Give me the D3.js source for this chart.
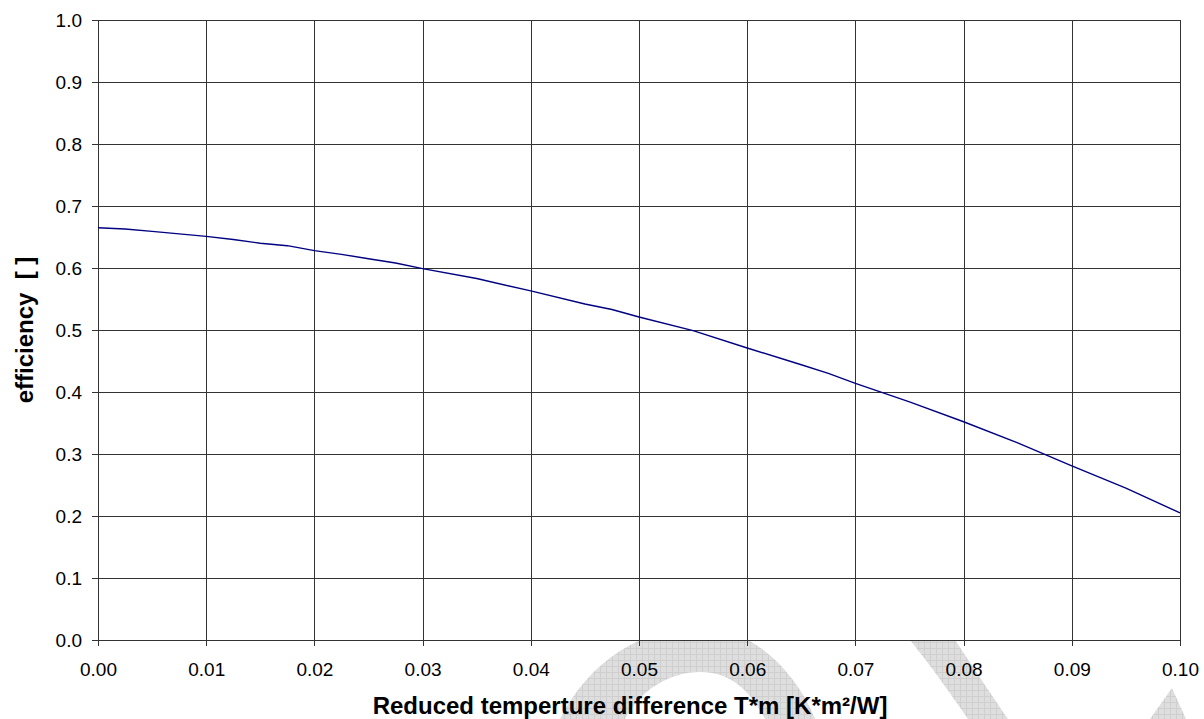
<!DOCTYPE html>
<html>
<head>
<meta charset="utf-8">
<script src="https://cdn.jsdelivr.net/npm/d3@7"></script>
<style>
	body { margin: 0; background: #fff; }
	svg { display: block; }
	.axis text { font-family: "Liberation Sans", Arial, sans-serif; font-size: 19px; fill: #000; }
	.axis path { display: none; }
	.axis line { stroke: #333; }
	.grid line { stroke: #333; }
	.grid path { display: none; }
	.title { font-family: "Liberation Sans", Arial, sans-serif; font-size: 24px; font-weight: bold; fill: #000; white-space: pre; }
</style>
</head>
<body>
<div id="chart"></div>
<script>
// Reduced temperature difference T*m [K*m2/W]
var xValues = [0, 0.0025, 0.005, 0.0075, 0.01, 0.0125, 0.015, 0.0175, 0.02, 0.0225, 0.025, 0.0275,
	0.03, 0.035, 0.04, 0.045, 0.0475, 0.05, 0.055, 0.06, 0.065, 0.0675, 0.07, 0.075, 0.08, 0.085,
	0.09, 0.095, 0.1];
// efficiency [ ]
var efficiency = [0.665, 0.663, 0.659, 0.655, 0.651, 0.646, 0.640, 0.636, 0.628, 0.622, 0.615, 0.608,
	0.599, 0.583, 0.563, 0.542, 0.533, 0.521, 0.499, 0.471, 0.444, 0.430, 0.414, 0.384, 0.352, 0.318,
	0.281, 0.245, 0.205];

var xTicks = [0, 0.01, 0.02, 0.03, 0.04, 0.05, 0.06, 0.07, 0.08, 0.09, 0.1];
var yTicks = [0, 0.1, 0.2, 0.3, 0.4, 0.5, 0.6, 0.7, 0.8, 0.9, 1.0];

var xTitle = 'Reduced temperture difference T*m [K*m\u00b2/W]';
var yTitle = 'efficiency  [ ]';

var width = 1204;
var height = 719;
var margins = { top: 20, right: 24, bottom: 79, left: 98 };
var chartWidth = width - margins.left - margins.right;
var chartHeight = height - margins.top - margins.bottom;

var data = xValues.map(function(x, i) {
	return { x: x, y: efficiency[i] };
});

var svg = d3.select('#chart')
	.append('svg')
	.attr('width', width)
	.attr('height', height);

// faint watermark behind the chart
var defs = svg.append('defs');
var pattern = defs.append('pattern')
	.attr('id', 'wm')
	.attr('width', 6)
	.attr('height', 6)
	.attr('patternUnits', 'userSpaceOnUse');
pattern.append('rect').attr('width', 6).attr('height', 6).attr('fill', '#dedede');
pattern.append('path').attr('d', 'M0,0.5H6M0.5,0V6').attr('stroke', '#cfcfcf').attr('stroke-width', 1);

var watermark = svg.append('g').attr('class', 'watermark');
watermark.append('path')
	.attr('fill', 'url(#wm)')
	.attr('d', 'M560,719 C590,660 640,630 700,625 C760,630 800,680 815,719 L765,719 C750,690 730,672 700,672 C670,672 640,690 625,719 Z');
watermark.append('path')
	.attr('fill', 'url(#wm)')
	.attr('d', 'M910,640 L955,640 C975,670 995,700 1008,719 L968,719 C948,690 930,665 910,640 Z');
watermark.append('path')
	.attr('fill', 'url(#wm)')
	.attr('d', 'M1150,719 L1172,688 L1186,719 Z');

var chartElement = svg.append('g')
	.attr('transform', 'translate(' + margins.left + ',' + margins.top + ')');

chartElement.append('rect')
	.attr('width', chartWidth)
	.attr('height', chartHeight)
	.attr('fill', '#fff');

var xScale = d3.scaleLinear().domain([0, 0.1]).range([0, chartWidth]);
var yScale = d3.scaleLinear().domain([0, 1]).range([chartHeight, 0]);

// grid
chartElement.append('g')
	.attr('class', 'grid')
	.attr('transform', 'translate(0,' + chartHeight + ')')
	.call(d3.axisBottom(xScale).tickValues(xTicks).tickSize(-chartHeight).tickFormat(''))
	.selectAll('line').attr('shape-rendering', 'crispEdges');

chartElement.append('g')
	.attr('class', 'grid')
	.call(d3.axisLeft(yScale).tickValues(yTicks).tickSize(-chartWidth).tickFormat(''))
	.selectAll('line').attr('shape-rendering', 'crispEdges');

// axes
var xAxis = chartElement.append('g')
	.attr('class', 'x axis')
	.attr('transform', 'translate(0,' + chartHeight + ')')
	.call(d3.axisBottom(xScale).tickValues(xTicks).tickSize(6).tickPadding(17).tickFormat(d3.format('.2f')));
xAxis.selectAll('line').attr('shape-rendering', 'crispEdges');

var yAxis = chartElement.append('g')
	.attr('class', 'y axis')
	.call(d3.axisLeft(yScale).tickValues(yTicks).tickSize(6).tickPadding(10).tickFormat(d3.format('.1f')));
yAxis.selectAll('line').attr('shape-rendering', 'crispEdges');

// line
var line = d3.line()
	.x(function(d) { return xScale(d.x); })
	.y(function(d) { return yScale(d.y); });

chartElement.append('path')
	.datum(data)
	.attr('fill', 'none')
	.attr('stroke', '#000080')
	.attr('stroke-width', 1.4)
	.attr('d', line);

// titles
svg.append('text')
	.attr('class', 'title')
	.attr('x', 630)
	.attr('y', 714)
	.attr('text-anchor', 'middle')
	.text(xTitle);

svg.append('text')
	.attr('class', 'title')
	.attr('transform', 'translate(33,' + (margins.top + chartHeight / 2) + ') rotate(-90)')
	.attr('text-anchor', 'middle')
	.text(yTitle);
</script>
</body>
</html>
